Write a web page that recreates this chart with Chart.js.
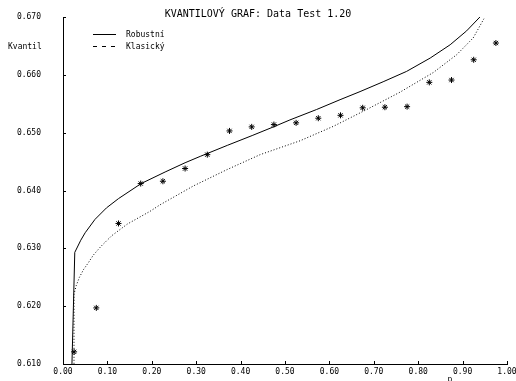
<!DOCTYPE html>
<html>
<head>
<meta charset="utf-8">
<script src="https://cdn.jsdelivr.net/npm/chart.js@4.4.1/dist/chart.umd.min.js"></script>
<style>
    html, body { margin: 0; padding: 0; background: #fff; }
    #wrap { width: 516px; height: 381px; }
</style>
</head>
<body>
<div id="wrap"><canvas id="quantileChart" width="516" height="381"></canvas></div>
<script>
const chartTitle = 'KVANTILOVÝ GRAF: Data Test 1.20';
const yAxisName = 'Kvantil';
const xAxisName = 'p';

const xTicks = [0.0, 0.1, 0.2, 0.3, 0.4, 0.5, 0.6, 0.7, 0.8, 0.9, 1.0];
const yTicks = [0.61, 0.62, 0.63, 0.64, 0.65, 0.66, 0.67];

// empirical quantiles of the sample
const sampleP = [0.025, 0.075, 0.125, 0.175, 0.225, 0.275, 0.325, 0.375, 0.425, 0.475,
                 0.525, 0.575, 0.625, 0.675, 0.725, 0.775, 0.825, 0.875, 0.925, 0.975];
const sampleQ = [0.6121, 0.6197, 0.6343, 0.6412, 0.6416, 0.6438, 0.6462, 0.6503, 0.6510, 0.6514,
                 0.6517, 0.6525, 0.6530, 0.6543, 0.6544, 0.6545, 0.6587, 0.6591, 0.6626, 0.6655];

// robust fit
const robustP = [0.0200, 0.0235, 0.0265, 0.040, 0.050, 0.072, 0.098, 0.125, 0.176, 0.230, 0.275,
                 0.309, 0.370, 0.426, 0.474, 0.511, 0.571, 0.624, 0.669, 0.721, 0.774,
                 0.827, 0.872, 0.909, 0.939];
const robustQ = [0.6095, 0.6200, 0.6293, 0.6314, 0.6327, 0.6350, 0.6370, 0.6386, 0.6412, 0.6432, 0.6448,
                 0.6459, 0.6478, 0.6495, 0.6510, 0.6522, 0.6540, 0.6557, 0.6571, 0.6588, 0.6606,
                 0.6629, 0.6652, 0.6676, 0.6700];

// classical fit
const classicP = [0.0248, 0.0248, 0.030, 0.037, 0.046, 0.057, 0.068, 0.085, 0.110, 0.145, 0.196, 0.218, 0.294,
                  0.369, 0.444, 0.534, 0.609, 0.684, 0.759, 0.834, 0.887, 0.924, 0.948];
const classicQ = [0.6090, 0.6221, 0.6236, 0.6250, 0.6263, 0.6275, 0.6288, 0.6303, 0.6322, 0.6342, 0.6364, 0.6375, 0.6408,
                  0.6436, 0.6462, 0.6486, 0.6511, 0.6540, 0.6570, 0.6604, 0.6635, 0.6664, 0.6697];

const toXY = (xs, ys) => xs.map((x, i) => ({ x: x, y: ys[i] }));

const smallFont = '8px "DejaVu Sans Mono"';
const titleFont = '10px "DejaVu Sans Mono"';

const decorations = {
    id: 'decorations',
    afterDraw(chart) {
        const { ctx, chartArea, scales } = chart;
        const xs = scales.x;
        const ys = scales.y;
        ctx.save();
        ctx.strokeStyle = '#000';
        ctx.lineWidth = 1;

        // tick marks point into the plot
        ctx.beginPath();
        ys.ticks.forEach(t => {
            const py = Math.round(ys.getPixelForValue(t.value)) + 0.5;
            ctx.moveTo(chartArea.left, py);
            ctx.lineTo(chartArea.left + 3, py);
        });
        xs.ticks.forEach(t => {
            const px = Math.round(xs.getPixelForValue(t.value)) + 0.5;
            ctx.moveTo(px, chartArea.bottom);
            ctx.lineTo(px, chartArea.bottom - 3);
        });
        ctx.stroke();

        ctx.fillStyle = '#000';
        ctx.font = titleFont;
        ctx.textAlign = 'center';
        ctx.textBaseline = 'middle';
        ctx.fillText(chartTitle, 258, 14);

        ctx.font = smallFont;
        ctx.textAlign = 'left';
        ctx.fillText(yAxisName, 8, 47);

        ctx.textAlign = 'center';
        ctx.textBaseline = 'alphabetic';
        ctx.fillText(xAxisName, 450, 382);

        // legend for the two fitted curves
        ctx.textAlign = 'left';
        ctx.textBaseline = 'middle';
        const rows = [chart.data.datasets[0], chart.data.datasets[1]];
        rows.forEach((ds, i) => {
            const ly = 34.5 + i * 12;
            ctx.setLineDash(i === 0 ? [] : [4, 5]);
            ctx.beginPath();
            ctx.moveTo(93, ly);
            ctx.lineTo(116, ly);
            ctx.stroke();
            ctx.setLineDash([]);
            ctx.fillText(ds.label, 126, ly);
        });
        ctx.restore();
    }
};

document.addEventListener('DOMContentLoaded', () => {
    const ctx = document.getElementById('quantileChart').getContext('2d');

    new Chart(ctx, {
        type: 'scatter',
        data: {
            datasets: [
                {
                    label: 'Robustní',
                    data: toXY(robustP, robustQ),
                    showLine: true,
                    borderColor: '#000',
                    borderWidth: 1,
                    pointRadius: 0,
                    tension: 0
                },
                {
                    label: 'Klasický',
                    data: toXY(classicP, classicQ),
                    showLine: true,
                    borderColor: '#000',
                    borderWidth: 1,
                    borderDash: [1, 2],
                    pointRadius: 0,
                    tension: 0
                },
                {
                    label: 'Data',
                    data: toXY(sampleP, sampleQ),
                    showLine: false,
                    pointStyle: 'star',
                    pointRadius: 3,
                    borderColor: '#000',
                    borderWidth: 1,
                    backgroundColor: '#000'
                }
            ]
        },
        options: {
            responsive: false,
            animation: false,
            devicePixelRatio: 1,
            layout: { padding: { top: 17, right: 9, left: 0, bottom: 0 } },
            plugins: {
                legend: { display: false },
                title: { display: false },
                tooltip: { enabled: false }
            },
            scales: {
                x: {
                    type: 'linear',
                    min: 0,
                    max: 1,
                    afterBuildTicks: scale => { scale.ticks = xTicks.map(v => ({ value: v })); },
                    afterFit: scale => {
                        scale.height = 17;
                        scale.paddingLeft = 0;
                        scale.paddingRight = 0;
                    },
                    grid: { display: false, drawTicks: false },
                    border: { display: true, color: '#000', width: 1 },
                    ticks: {
                        autoSkip: false,
                        maxRotation: 0,
                        padding: 3,
                        color: '#000',
                        font: { family: 'DejaVu Sans Mono', size: 8 },
                        callback: v => v.toFixed(2)
                    }
                },
                y: {
                    type: 'linear',
                    min: 0.61,
                    max: 0.67,
                    afterBuildTicks: scale => { scale.ticks = yTicks.map(v => ({ value: v })); },
                    afterFit: scale => {
                        scale.width = 63;
                        scale.paddingTop = 0;
                        scale.paddingBottom = 0;
                    },
                    grid: { display: false, drawTicks: false },
                    border: { display: true, color: '#000', width: 1 },
                    ticks: {
                        padding: 22,
                        color: '#000',
                        font: { family: 'DejaVu Sans Mono', size: 8 },
                        callback: v => v.toFixed(3)
                    }
                }
            }
        },
        plugins: [decorations]
    });
});
</script>
</body>
</html>
